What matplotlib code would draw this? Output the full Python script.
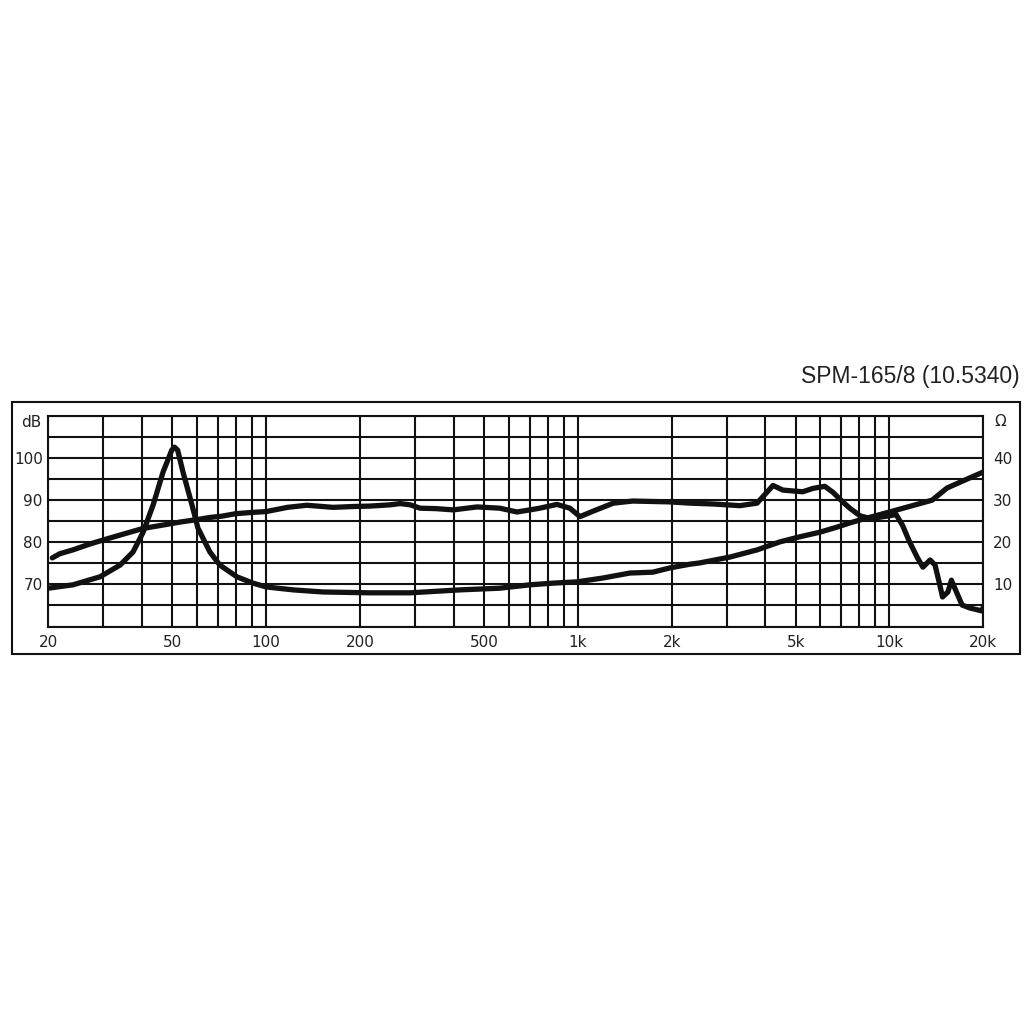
"""SPM-165/8 frequency response + impedance chart."""
import matplotlib

matplotlib.use("Agg")
import matplotlib.pyplot as plt
from matplotlib.patches import Rectangle
from matplotlib.ticker import FixedLocator, NullFormatter

# SPL curve (left axis, dB)
spl_freq = [20.6, 21.8, 24, 27.2, 30.8, 35.8, 40.3, 46.7, 52.9, 60, 66, 72, 80, 90, 100,
            110, 117, 135, 164, 190, 215, 250, 269, 290, 312, 350, 398, 475, 562, 638, 702,
            755, 857, 943, 1016, 1120, 1300, 1500, 1970, 2290, 2720, 3310, 3760, 4230, 4550,
            5270, 5680, 6200, 6580, 7080, 7460, 8040, 8600, 9200, 10000, 10500, 11000, 11600,
            12300, 12800, 13500, 14000, 14500, 14800, 15400, 15800, 16400, 17100, 18100,
            19800, 20000]
spl_db = [76.3, 77.3, 78.2, 79.6, 80.8, 82.2, 83.3, 84.1, 84.8, 85.4, 85.9, 86.2, 86.8, 87.1, 87.3,
          87.9, 88.3, 88.8, 88.3, 88.5, 88.6, 88.9, 89.2, 88.9, 88.1, 88.0, 87.7, 88.4, 88.1, 87.2, 87.7,
          88.1, 89.0, 88.1, 86.1, 87.4, 89.3, 89.8, 89.6, 89.3, 89.1, 88.7, 89.3, 93.5, 92.4,
          92.0, 92.8, 93.3, 91.9, 89.6, 88.1, 86.3, 85.7, 85.9, 86.3, 86.6, 84.1, 80.1,
          76.3, 74.1, 75.8, 74.6, 69.9, 67.0, 68.2, 71.0, 68.2, 65.1, 64.4,
          63.7, 64.6]

# impedance curve (right axis, ohm)
imp_freq = [20, 24, 29.3, 34, 37.4, 40.3, 43.4, 46.7, 49.8, 50.8, 52, 54.1, 57.8, 60.4, 66, 71,
            80.6, 90.7, 100, 122, 152, 215, 290, 419, 562, 702, 832, 993, 1200, 1470, 1740,
            1970, 2290, 2460, 3080, 3760, 4450, 5150, 5980, 6780, 7460, 8040, 10000, 13700,
            15300, 18100, 20000]
imp_ohm = [9.1, 9.9, 11.8, 14.6, 17.7, 22.4, 28.9, 36.7, 41.9, 42.6, 41.9, 36.7, 28.9, 23.4, 17.7, 14.6,
           11.8, 10.3, 9.4, 8.7, 8.2, 8.0, 8.0, 8.7, 9.1, 9.9, 10.3, 10.6, 11.5, 12.7, 12.9,
           13.9, 14.8, 15.1, 16.5, 18.2, 20.1, 21.3, 22.4, 23.6, 24.6, 25.3, 27.2, 30.0,
           32.9, 35.3, 36.7]

freq_ticks = [20, 50, 100, 200, 500, 1000, 2000, 5000, 10000, 20000]
freq_labels = ["20", "50", "100", "200", "500", "1k", "2k", "5k", "10k", "20k"]
db_ticks = [70, 80, 90, 100]
ohm_ticks = [10, 20, 30, 40]
title = "SPM-165/8 (10.5340)"

INK = "#111111"
TXT = "#222222"
FS = 11


def main():
    plt.rcParams["font.family"] = ["DejaVu Sans"]
    fig = plt.figure(figsize=(10.24, 10.24), dpi=100)
    ax = fig.add_axes([48.3 / 1024, 397.5 / 1024, 935 / 1024, 210.5 / 1024])

    ax.set_xscale("log")
    ax.set_xlim(20, 20000)
    ax.set_ylim(60, 110)

    # grid: every 1-2-...-9 per decade, every 5 dB
    grid_f = [m * 10 ** e for e in range(1, 5) for m in range(1, 10) if 20 <= m * 10 ** e <= 20000]
    ax.xaxis.set_major_locator(FixedLocator(freq_ticks))
    ax.set_xticklabels(freq_labels)
    ax.xaxis.set_minor_locator(FixedLocator(grid_f))
    ax.xaxis.set_minor_formatter(NullFormatter())
    ax.yaxis.set_major_locator(FixedLocator(db_ticks))
    ax.set_yticklabels([str(v) for v in db_ticks])
    ax.yaxis.set_minor_locator(FixedLocator(list(range(60, 111, 5))))
    ax.grid(True, which="both", color=INK, lw=1.5)
    ax.set_axisbelow(True)
    for s in ax.spines.values():
        s.set_color(INK)
        s.set_linewidth(1.5)
    ax.tick_params(axis="both", which="both", length=0, labelsize=FS, colors=TXT)
    ax.tick_params(axis="x", pad=6)
    ax.tick_params(axis="y", pad=4)

    ax.plot(spl_freq, spl_db, color=INK, lw=3.8, solid_joinstyle="round",
            solid_capstyle="round", zorder=3)

    ax2 = ax.twinx()
    ax2.set_ylim(0, 50)
    ax2.yaxis.set_major_locator(FixedLocator(ohm_ticks))
    ax2.set_yticklabels([str(v) for v in ohm_ticks])
    ax2.tick_params(axis="y", length=0, labelsize=FS, colors=TXT, pad=7)
    for s in ax2.spines.values():
        s.set_visible(False)
    ax2.plot(imp_freq, imp_ohm, color=INK, lw=3.8, solid_joinstyle="round",
             solid_capstyle="round", zorder=3)

    ax.text(-0.007, 0.97, "dB", transform=ax.transAxes, ha="right", va="center",
            fontsize=FS, color=TXT)
    ax.text(1.012, 0.975, "Ω", transform=ax.transAxes, ha="left", va="center",
            fontsize=FS, color=TXT)

    fig.add_artist(Rectangle((12 / 1024, 1 - 654 / 1024), 1008 / 1024, 252 / 1024,
                             transform=fig.transFigure, fill=False, lw=1.5, ec=INK))
    fig.text(1020 / 1024, 1 - 376 / 1024, title, ha="right", va="center",
             fontsize=16.5, color=TXT, family=["Liberation Sans", "DejaVu Sans"])

    fig.savefig("out.png", dpi=100, facecolor="white")
    plt.close(fig)


if __name__ == "__main__":
    main()
